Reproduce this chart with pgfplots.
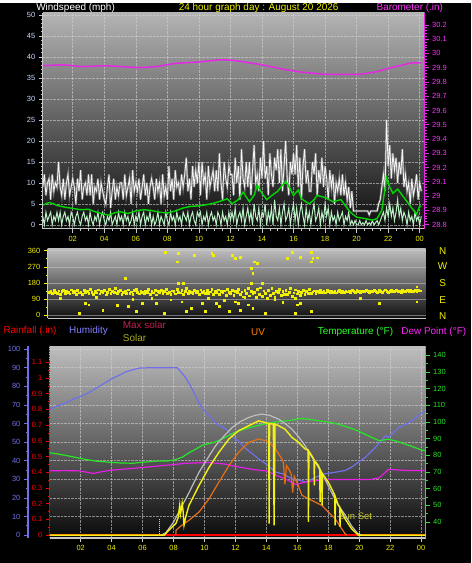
\documentclass[border=0pt]{standalone}
\usepackage{fontspec}
\setmainfont{Liberation Sans}
\usepackage{pgfplots}
\usepackage{pgfplotstable}
\pgfplotsset{compat=1.18}
\definecolor{wlabel}{RGB}{200,220,255}
\definecolor{yel}{RGB}{240,240,0}
\definecolor{mag}{RGB}{255,50,255}
\definecolor{baro}{RGB}{230,40,230}
\definecolor{gust}{RGB}{245,245,245}
\definecolor{gustsh}{RGB}{170,170,170}
\definecolor{wspd}{RGB}{185,240,195}
\definecolor{wavg}{RGB}{0,215,0}
\definecolor{humb}{RGB}{112,112,235}
\definecolor{tgreen}{RGB}{40,230,40}
\definecolor{dewm}{RGB}{230,30,230}
\definecolor{msolar}{RGB}{190,190,190}
\definecolor{solar}{RGB}{245,240,20}
\definecolor{uvor}{RGB}{230,110,20}
\definecolor{rainr}{RGB}{255,0,0}
\definecolor{axgrey}{RGB}{200,200,200}
\definecolor{gridc}{RGB}{210,210,210}
\definecolor{bgtop}{RGB}{180,180,180}
\definecolor{bgmid}{RGB}{95,95,95}
\definecolor{bgbot}{RGB}{12,12,12}
\definecolor{maxsl}{RGB}{200,30,80}
\definecolor{solt}{RGB}{170,170,30}
\definecolor{sunset}{RGB}{200,200,50}
\pgfplotstableread[row sep=\\, header=false]{
9\\12\\7\\10\\11\\6\\12\\8\\10\\9\\
15\\9\\7\\11\\6\\10\\12\\7\\9\\11\\
9\\5\\11\\8\\13\\6\\9\\10\\7\\12\\
7\\12\\5\\9\\8\\11\\6\\10\\8\\6\\
5\\9\\12\\4\\8\\11\\6\\9\\7\\10\\
10\\6\\12\\7\\9\\11\\5\\13\\8\\10\\
8\\11\\6\\9\\12\\7\\10\\5\\9\\11\\
9\\6\\11\\8\\10\\5\\12\\7\\9\\6\\
14\\8\\11\\6\\13\\9\\10\\7\\12\\9\\
12\\16\\8\\11\\6\\14\\9\\13\\10\\15\\
7\\15\\10\\12\\6\\14\\9\\11\\13\\8\\
13\\8\\17\\10\\6\\15\\11\\9\\14\\12\\
12\\7\\16\\10\\14\\6\\18\\11\\9\\15\\
9\\15\\7\\13\\19\\10\\12\\8\\16\\11\\
20\\11\\14\\7\\17\\12\\9\\16\\13\\18\\
10\\18\\8\\14\\20\\11\\7\\15\\12\\17\\
12\\19\\9\\16\\6\\14\\18\\10\\13\\8\\
8\\15\\12\\17\\7\\13\\10\\16\\9\\14\\
11\\6\\13\\9\\12\\5\\10\\8\\11\\7\\
12\\7\\10\\6\\9\\4\\8\\3.3\\3.3\\3.3\\
3.3\\3.3\\3.3\\3.3\\3.3\\3.3\\3.3\\2.4\\3.3\\3.3\\
3.3\\3.3\\3.3\\5\\6\\9\\12\\8\\25\\14\\
19\\11\\17\\13\\16\\10\\15\\12\\18\\9\\
12\\8\\10\\5\\11\\7\\9\\12\\6\\10\\
8\\
}\gusttable
\begin{document}
\begin{tikzpicture}[x=1pt,y=1pt]
\fill[black] (0pt,0pt) rectangle (474pt,563pt);
\pgfplotsset{every axis/.append style={scale only axis, anchor=south west,
  tick label style={font=\fontsize{7.5}{8}\selectfont},
  /pgf/number format/assume math mode=true,
  tick align=outside, major tick length=4pt, minor tick length=2pt}}
% ---------- titles ----------
\node[anchor=west, text=white, font=\fontsize{10}{11}\selectfont] at (33pt,558pt) {Windspeed (mph)};
\node[text=yel, font=\fontsize{10}{11}\selectfont] at (260pt,558pt) {24 hour graph day : August 20 2026};
\node[text=mag, font=\fontsize{10}{11}\selectfont] at (412pt,558pt) {Barometer (.in)};
% ---------- top panel: wind ----------
\begin{axis}[at={(43pt,336pt)}, width=384pt, height=217pt,
  xmin=0.1, xmax=24.32, ymin=-0.95, ymax=50.5,
  axis background/.style={shade, top color=bgtop, middle color=bgmid, bottom color=bgbot},
  axis x line*=bottom, axis y line*=left,
  axis line style={-, color=axgrey, line width=1.2pt},
  ytick={0,5,...,50}, minor y tick num=4,
  xtick={2,4,...,24}, xticklabels={02,04,06,08,10,12,14,16,18,20,22,00},
  minor x tick num=3,
  yticklabel style={color=wlabel},
  xticklabel style={color=yel},
  tick style={color=axgrey, line width=0.6pt},
  grid=major, major grid style={densely dotted, color=gridc, line width=0.5pt, opacity=0.6}]
\addplot[gustsh, line width=2.2pt, opacity=0.55] table[x expr=\coordindex*0.1+0.1, y index=0] {\gusttable};
\addplot[gust, line width=0.8pt] table[x expr=\coordindex*0.1+0.1, y index=0] {\gusttable};
\addplot[wspd, line width=1pt] table[row sep=\\, header=false, x expr=\coordindex*0.1+0.1, y index=0] {
2\\0\\3\\1\\2\\3\\0\\2\\1\\3\\
1\\3\\0\\2\\3\\1\\2\\0\\3\\2\\
0\\2\\3\\1\\0\\2\\3\\1\\2\\0\\
3\\1\\0\\2\\1\\3\\0\\2\\3\\1\\
0\\2\\1\\3\\0\\1\\2\\0\\3\\1\\
2\\0\\3\\1\\2\\0\\1\\3\\0\\2\\
1\\3\\0\\2\\3\\0\\2\\1\\3\\0\\
2\\0\\1\\3\\0\\2\\1\\0\\3\\1\\
0\\3\\1\\2\\0\\3\\1\\2\\0\\3\\
2\\1\\3\\0\\2\\3\\1\\0\\3\\2\\
3\\0\\2\\1\\3\\0\\2\\3\\1\\2\\
0\\3\\2\\0\\3\\1\\2\\0\\3\\1\\
3\\1\\4\\0\\2\\3\\1\\4\\0\\2\\
4\\1\\3\\0\\5\\2\\1\\4\\0\\3\\
2\\5\\0\\3\\1\\4\\0\\6\\2\\1\\
4\\0\\3\\5\\1\\2\\4\\0\\3\\5\\
1\\4\\0\\3\\5\\2\\0\\4\\1\\3\\
0\\3\\5\\1\\2\\4\\0\\3\\1\\5\\
2\\4\\0\\3\\1\\2\\0\\3\\1\\2\\
3\\0\\2\\1\\3\\0\\1\\0\\1\\0\\
0\\1\\0\\0.5\\0\\1\\0\\0.5\\0\\1\\
0\\0.5\\1\\0\\1\\2\\3\\1\\4\\2\\
5\\2\\4\\1\\3\\6\\2\\4\\1\\3\\
2\\0\\3\\1\\2\\0\\3\\1\\2\\0\\
2\\
};
\addplot[wavg, line width=1.4pt] coordinates {
(0.1,4.7)(0.5,5.3)(0.8,5.0)(1,4.6)(1.5,4.2)(2,3.9)(2.5,3.6)(3,3.7)(3.5,3.0)(4,2.5)(4.3,2.3)(4.7,2.9)(5,3.1)(5.5,2.7)(6,3.3)(6.5,3.6)(7,3.4)(7.5,3.0)(8,2.8)(8.5,3.3)(9,4.0)(9.5,4.4)(10,4.5)(10.5,4.8)(11,5.2)(11.5,5.8)(11.8,6.2)(12.1,5.0)(12.5,6.0)(12.8,7.8)(13.2,5.5)(13.5,7.0)(13.7,9.5)(14.0,7.5)(14.3,6.0)(14.7,7.2)(15.0,8.0)(15.2,9.0)(15.5,10.4)(15.8,8.5)(16.0,7.0)(16.3,8.3)(16.5,6.2)(17.0,5.0)(17.3,6.0)(17.5,7.0)(18.0,6.5)(18.5,5.5)(19.0,6.0)(19.3,4.5)(19.6,3.0)(20.0,1.8)(20.5,1.5)(21.0,1.1)(21.3,1.5)(21.6,3.5)(21.9,11.2)(22.1,9.0)(22.3,7.5)(22.6,8.5)(23.0,6.5)(23.3,5.0)(23.6,3.5)(23.8,2.5)(24.0,4.5)(24.1,4.3)
};
\end{axis}
\begin{axis}[at={(43pt,336pt)}, width=384pt, height=217pt,
  xmin=0.1, xmax=24.32, ymin=28.77, ymax=30.284,
  axis y line*=right, axis x line=none,
  ytick={28.8,28.9,29,29.1,29.2,29.3,29.4,29.5,29.6,29.7,29.8,29.9,30,30.1,30.2},
  minor y tick num=4,
  y axis line style={-, color=baro, line width=1.2pt},
  yticklabel style={color=mag},
  tick style={color=baro, line width=0.6pt}]
\addplot[baro, line width=1.5pt] coordinates {
(0.1,29.914)(1.4,29.92)(2.6,29.907)(4.1,29.914)(6.2,29.90)(7.3,29.907)(8.5,29.93)(10,29.94)(11.3,29.955)(12.1,29.953)(14,29.92)(15.3,29.89)(16.4,29.87)(18,29.853)(20.2,29.853)(21.2,29.87)(22.2,29.90)(23.5,29.934)(24.1,29.934)
};
\end{axis}
% ---------- middle panel: direction ----------
\begin{axis}[at={(48pt,246pt)}, width=380pt, height=70pt,
  xmin=0.42, xmax=24.38, ymin=-16.6, ymax=371,
  axis background/.style={shade, top color={rgb,255:red,190;green,190;blue,190}, middle color={rgb,255:red,112;green,112;blue,112}, bottom color={rgb,255:red,15;green,15;blue,15}},
  axis x line*=bottom, axis y line*=left,
  axis line style={-, color=axgrey, line width=1.2pt},
  xtick=\empty, ytick={0,90,180,270,360}, minor y tick num=1,
  yticklabel style={color=yel},
  tick style={color=yel, line width=0.6pt},
  ymajorgrids, major grid style={color=gridc, line width=0.5pt, opacity=0.5}]
\addplot[color=yel, only marks, mark=square*, mark size=0.9pt, mark options={solid, fill=yel, draw=yel, line width=0.1pt}] table[row sep=\\, header=false, x expr=\coordindex*0.1+0.5, y index=0] {
128\\135\\122\\140\\131\\126\\138\\119\\133\\142\\
125\\137\\130\\121\\144\\128\\134\\117\\139\\127\\
132\\120\\141\\129\\136\\124\\147\\130\\118\\135\\
127\\143\\121\\134\\129\\139\\116\\131\\145\\124\\
136\\128\\150\\122\\133\\141\\119\\130\\137\\126\\
143\\125\\132\\118\\139\\147\\128\\121\\135\\130\\
124\\138\\131\\146\\120\\134\\127\\142\\116\\133\\
129\\140\\123\\136\\148\\126\\131\\119\\138\\134\\
121\\145\\130\\127\\139\\118\\133\\150\\125\\136\\
131\\122\\141\\128\\135\\117\\144\\129\\137\\124\\
139\\126\\132\\147\\120\\134\\128\\143\\119\\136\\
127\\138\\115\\145\\130\\122\\140\\112\\135\\128\\
148\\118\\132\\105\\141\\125\\152\\110\\136\\121\\
130\\100\\145\\119\\155\\108\\138\\126\\98\\142\\
115\\150\\124\\103\\137\\128\\146\\112\\133\\120\\
140\\118\\131\\152\\109\\127\\144\\121\\135\\113\\
129\\141\\117\\136\\125\\148\\122\\132\\138\\126\\
134\\128\\139\\131\\136\\127\\141\\133\\129\\137\\
131\\138\\127\\135\\140\\130\\134\\128\\137\\132\\
136\\130\\139\\133\\128\\141\\135\\131\\138\\134\\
132\\140\\135\\129\\137\\133\\142\\136\\130\\139\\
135\\131\\138\\143\\134\\129\\137\\141\\133\\136\\
140\\134\\138\\131\\142\\136\\133\\139\\135\\141\\
137\\133\\140\\136\\142\\138\\
};
\addplot[color=yel, only marks, mark=square*, mark size=0.9pt, mark options={solid, fill=yel, draw=yel, line width=0.1pt}] coordinates {
(2.4,13)(2.8,68)(3.0,60)(3.9,28)(4.8,55)(5.3,206)(5.5,50)(6.0,22)(6.4,70)(7.3,70)(7.8,13)(7.85,354)(8.7,345)(8.6,299)(8.7,179)(8.9,77)(9.0,179)(9.2,22)(9.5,40)(9.7,337)(10.2,70)(10.4,22)(10.8,345)(10.9,337)(11.1,70)(11.3,50)(11.9,22)(12.1,337)(12.3,77)(12.3,317)(12.6,326)(13.3,262)(13.5,299)(13.7,290)(13.4,234)(13.3,179)(14.0,179)(12.5,68)(12.6,30)(13.4,40)(14.2,13)(15.6,317)(15.9,350)(16.4,326)(17.1,354)(17.2,317)(17.5,321)(17.1,299)(16.1,96)(16.2,60)(16.4,70)(16.1,13)(17.1,22)(20.2,96)(21.4,70)(23.8,77)(23.8,160)(1.2,95)(3.5,100)(5.8,92)(7.0,98)(8.2,88)(10.6,95)(11.6,85)(14.8,88)(15.3,72)(13.1,60)(12.9,100)
};
\end{axis}
\foreach \l/\yy in {N/314,W/298,S/281,E/264,N/248}
  \node[text=yel, font=\fontsize{10}{11}\selectfont] at (445pt,\yy pt) {\l};
% ---------- bottom panel headers ----------
\node[anchor=west, text=rainr, font=\fontsize{10}{11}\selectfont] at (0pt,233pt) {Rainfall (.in)};
\node[anchor=west, text={rgb,255:red,128;green,128;blue,255}, font=\fontsize{10}{11}\selectfont] at (66pt,233pt) {Humidity};
\node[anchor=west, text=maxsl, font=\fontsize{10}{11}\selectfont] at (120pt,239pt) {Max solar};
\node[anchor=west, text=solt, font=\fontsize{10}{11}\selectfont] at (120pt,226pt) {Solar};
\node[anchor=west, text={rgb,255:red,255;green,128;blue,0}, font=\fontsize{10}{11}\selectfont] at (249pt,232pt) {UV};
\node[anchor=west, text={rgb,255:red,40;green,255;blue,40}, font=\fontsize{10}{11}\selectfont] at (316pt,232pt) {Temperature (°F)};
\node[anchor=west, text={rgb,255:red,255;green,40;blue,255}, font=\fontsize{10}{11}\selectfont] at (400pt,232pt) {Dew Point (°F)};
% ---------- bottom panel: rain axis ----------
\begin{axis}[at={(50pt,25pt)}, width=378pt, height=193pt,
  xmin=0, xmax=24.3, ymin=-0.019, ymax=1.2025,
  axis background/.style={shade, top color={rgb,255:red,190;green,190;blue,190}, middle color={rgb,255:red,95;green,95;blue,95}, bottom color={rgb,255:red,10;green,10;blue,10}},
  axis x line*=bottom, axis y line*=left,
  x axis line style={-, color=axgrey, line width=1.5pt},
  y axis line style={-, color=rainr, densely dotted, line width=1.5pt},
  xtick={2,4,...,24}, xticklabels={02,04,06,08,10,12,14,16,18,20,22,00},
  ytick={0,0.1,0.2,0.3,0.4,0.5,0.6,0.7,0.8,0.9,1,1.1}, minor y tick num=1,
  yticklabel style={color=rainr}, xticklabel style={color=yel},
  ytick style={color=rainr, line width=0.6pt}, xtick style={color=axgrey, line width=0.6pt},
  xmajorgrids, major grid style={densely dotted, color=gridc, line width=0.5pt, opacity=0.6}]
\addplot[rainr, line width=2pt] coordinates {(0,0)(24.3,0)};
\end{axis}
% humidity label axis
\begin{axis}[at={(28pt,25pt)}, width=1pt, height=193pt,
  xmin=0, xmax=1, ymin=-1.6, ymax=101.6,
  axis y line*=left, axis x line=none,
  ytick={0,10,...,100}, minor y tick num=1,
  y axis line style={-, color=humb, line width=2pt},
  yticklabel style={color=humb}, tick style={color=humb, line width=0.8pt}]
\end{axis}
% humidity data
\begin{axis}[at={(50pt,25pt)}, width=378pt, height=193pt,
  xmin=0, xmax=24.3, ymin=-1.6, ymax=101.6,
  axis line style={draw=none}, tick style={draw=none},
  xtick=\empty, ytick={10,20,...,100}, yticklabels={},
  ymajorgrids, major grid style={densely dotted, color=gridc, line width=0.5pt, opacity=0.6}]
\addplot[humb, line width=1.2pt] coordinates {
(0,67.8)(0.5,69.5)(1,71)(1.5,73)(1.93,74.3)(2.5,76.5)(3,79)(3.5,81.5)(4,84)(4.5,86)(4.9,87.7)(5.4,89)(5.8,89.8)(6.5,90)(7.5,90)(8.25,90)(8.5,87.5)(8.8,84.5)(9.2,78.6)(9.65,71)(10.1,65.8)(10.4,63.5)(10.7,60.4)(11,58.8)(11.4,57)(11.8,53)(12.2,50.5)(12.6,47)(13.1,43.7)(13.5,41)(13.97,38.3)(14.3,36)(14.6,33.9)(15.05,33)(15.5,31)(15.9,29.4)(16.2,29.5)(16.55,28.5)(16.9,30)(17.2,31.2)(17.8,33)(18.5,33.9)(19.1,34.8)(19.5,36.5)(19.8,38.3)(20.4,41.9)(21.05,47.2)(21.7,53.5)(21.9,52.6)(22.2,55)(22.55,57.9)(23,59.5)(23.4,61.5)(23.7,63.5)(24.05,65.9)(24.3,66.5)
};
\end{axis}
% temperature / dew point
\begin{axis}[at={(50pt,25pt)}, width=378pt, height=193pt,
  xmin=0, xmax=24.3, ymin=30.24, ymax=145.5,
  axis y line*=right, axis x line=none,
  ytick={40,50,...,140}, minor y tick num=1,
  y axis line style={-, color=tgreen, line width=1.5pt},
  yticklabel style={color=tgreen}, tick style={color=tgreen, line width=0.6pt}]
\addplot[dewm, line width=1.2pt] coordinates {
(0,70.6)(1,70.8)(1.93,70.6)(2.4,69.8)(2.8,69.1)(3.3,70)(3.86,70.9)(4.6,71.5)(5.36,72.1)(6.2,72.8)(7.07,73.6)(8,74.4)(8.8,75.2)(9.5,75.4)(10.1,75.6)(10.8,75.2)(11.4,74.6)(11.83,73.6)(12.5,72.5)(13.1,71.5)(13.97,70.6)(14.3,69.5)(14.6,68.1)(15.05,66.5)(15.5,64.5)(15.9,62.4)(16.3,63.4)(16.9,64.5)(17.8,65.4)(18.6,65.4)(19.5,65.4)(20.7,65.4)(21.3,66.5)(21.6,69)(21.9,71.5)(22.5,71.2)(23,70.9)(24.05,70.9)(24.3,70.9)
};
\addplot[tgreen, line width=1.2pt] coordinates {
(0,81.5)(0.5,80.8)(1,80)(1.93,78.2)(2.5,77.2)(3,76.5)(3.86,75.8)(4.5,75.4)(5.36,75.2)(6,75.8)(7.07,76.6)(7.6,76.5)(8.15,77.4)(8.6,79)(9,81.5)(9.4,83.5)(9.86,86)(10.3,87)(10.7,88)(11.2,90)(11.8,93)(12.2,94.5)(12.7,96)(13.3,97.5)(14,99)(14.5,99.8)(15.05,100.4)(15.6,101)(16.1,102)(16.6,101.8)(17,101.3)(17.6,100.4)(18.3,99.4)(18.7,98.5)(19.1,97.3)(19.6,95.8)(20,94.3)(20.6,91.6)(21.3,88.7)(21.9,89.7)(22.5,88.2)(23,86.6)(23.5,85)(24.05,83.1)(24.3,82.8)
};
\end{axis}
% UV (hidden axis)
\begin{axis}[at={(50pt,25pt)}, width=378pt, height=193pt,
  xmin=0, xmax=24.3, ymin=-0.25, ymax=16, hide axis]
\addplot[uvor, line width=1.2pt] coordinates {
(8.15,0)(8.16,0.42)(8.5,0.8)(9.0,1.26)(9.65,1.96)(10.3,3.09)(10.93,4.49)(11.58,5.89)(12.2,7.01)(12.86,7.86)(13.5,8.14)(13.93,8.0)(14.3,7.7)(14.58,7.3)(15.0,6.46)(15.1,6.2)(15.2,4.3)(15.3,5.9)(15.45,5.6)(15.6,5.2)(15.7,3.6)(15.8,5.0)(16.0,4.4)(16.3,3.37)(16.72,3.09)(17.15,2.8)(17.58,2.53)(18.0,1.96)(18.44,1.4)(18.86,0.56)(19.08,0.14)(19.2,0)
};
\end{axis}
% solar (hidden axis)
\begin{axis}[at={(50pt,25pt)}, width=378pt, height=193pt,
  xmin=0, xmax=24.3, ymin=-25, ymax=1600, hide axis]
\addplot[msolar, line width=1.2pt] coordinates {
(7.2,0)(7.5,20)(8,110)(8.57,253)(9,360)(9.65,533)(10.2,650)(10.72,758)(11.3,845)(11.8,912)(12.3,960)(12.86,996)(13.3,1015)(13.72,1025)(14.2,1015)(14.8,982)(15.2,945)(15.65,898)(16.1,830)(16.5,758)(16.9,670)(17.36,575)(17.8,470)(18.2,365)(18.6,265)(19.1,168)(19.5,80)(19.9,14)(20.15,0)
};
\addplot[solar, line width=1.4pt] coordinates {
(0,0)(7.4,0)(7.7,42)(8.0,80)(8.15,98)(8.3,150)(8.4,253)(8.45,180)(8.5,220)(8.56,270)(8.62,200)(8.68,84)(8.8,160)(9.0,253)(9.65,421)(10.3,575)(10.93,701)(11.58,814)(12.2,884)(12.86,926)(13.5,968)(13.9,954)(14.15,945)(14.18,98)(14.21,945)(14.45,940)(14.5,84)(14.56,940)(14.8,926)(15.2,898)(15.65,828)(16.08,786)(16.5,730)(16.7,720)(16.72,112)(16.75,710)(16.93,674)(17.08,640)(17.1,421)(17.12,630)(17.36,590)(17.45,560)(17.47,280)(17.5,550)(17.58,530)(17.6,253)(17.63,520)(18.0,449)(18.33,365)(18.42,330)(18.44,84)(18.47,320)(18.65,253)(18.74,240)(18.76,70)(18.79,220)(19.08,140)(19.5,56)(19.94,0)(24.3,0)
};
\draw[yel, densely dotted, line width=1pt] (axis cs:7.07,135) -- (axis cs:7.07,-17);
\draw[yel, densely dotted, line width=1pt] (axis cs:20.05,84) -- (axis cs:20.05,-17);
\node[text=sunset, font=\fontsize{9.5}{10}\selectfont] at (axis cs:19.74,160) {Sun Set};
\end{axis}
\end{tikzpicture}
\end{document}
